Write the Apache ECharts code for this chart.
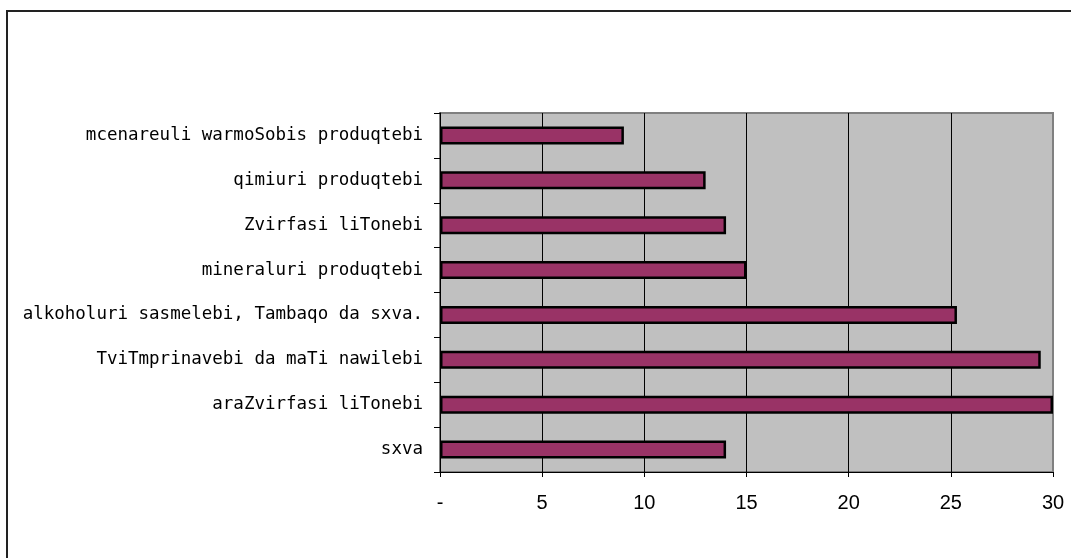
<!DOCTYPE html>
<html>
<head>
<meta charset="utf-8">
<script src="https://cdn.jsdelivr.net/npm/echarts@6/dist/echarts.min.js"></script>
<style>
html,body{margin:0;padding:0;background:#fff;overflow:hidden;}
#chart{width:1071px;height:558px;}
</style>
</head>
<body>
<div id="chart"></div>
<script>
const categories = [
  'mcenareuli warmoSobis produqtebi',
  'qimiuri produqtebi',
  'Zvirfasi liTonebi',
  'mineraluri produqtebi',
  'alkoholuri sasmelebi, Tambaqo da sxva.',
  'TviTmprinavebi da maTi nawilebi',
  'araZvirfasi liTonebi',
  'sxva'
];
const values = [9, 13, 14, 15, 25.3, 29.4, 30, 14];
const xTicks = [0, 5, 10, 15, 20, 25, 30];

const chart = echarts.init(document.getElementById('chart'), null, {renderer: 'canvas'});
chart.setOption({
  animation: false,
  backgroundColor: '#ffffff',
  graphic: [{
    type: 'rect',
    shape: {x: 7, y: 11, width: 1300, height: 800},
    style: {fill: 'none', stroke: '#222', lineWidth: 2},
    z: 100
  }],
  grid: {
    left: 440, right: 18, top: 113, bottom: 86,
    show: true, backgroundColor: '#C0C0C0', borderColor: '#808080', borderWidth: 2
  },
  xAxis: {
    type: 'value',
    min: xTicks[0], max: xTicks[xTicks.length - 1], interval: 5,
    axisLine: {show: true, lineStyle: {color: '#000', width: 1}},
    axisTick: {show: true, length: 5, lineStyle: {color: '#000'}},
    axisLabel: {
      margin: 21, color: '#000', fontFamily: 'Liberation Sans, Arial, sans-serif', fontSize: 20,
      formatter: v => v === 0 ? '-' : String(v)
    },
    splitLine: {show: true, showMinLine: false, showMaxLine: false, lineStyle: {color: '#000', width: 1}}
  },
  yAxis: {
    type: 'category', data: categories, inverse: true,
    axisLine: {show: true, lineStyle: {color: '#000', width: 1}},
    axisTick: {show: true, length: 6, lineStyle: {color: '#000'}},
    axisLabel: {margin: 17, color: '#000', fontFamily: 'DejaVu Sans Mono, monospace', fontSize: 17.5}
  },
  series: [{
    type: 'bar', data: values, barWidth: 18,
    itemStyle: {color: '#993366', borderColor: '#000', borderWidth: 2.5}
  }]
});
</script>
</body>
</html>
